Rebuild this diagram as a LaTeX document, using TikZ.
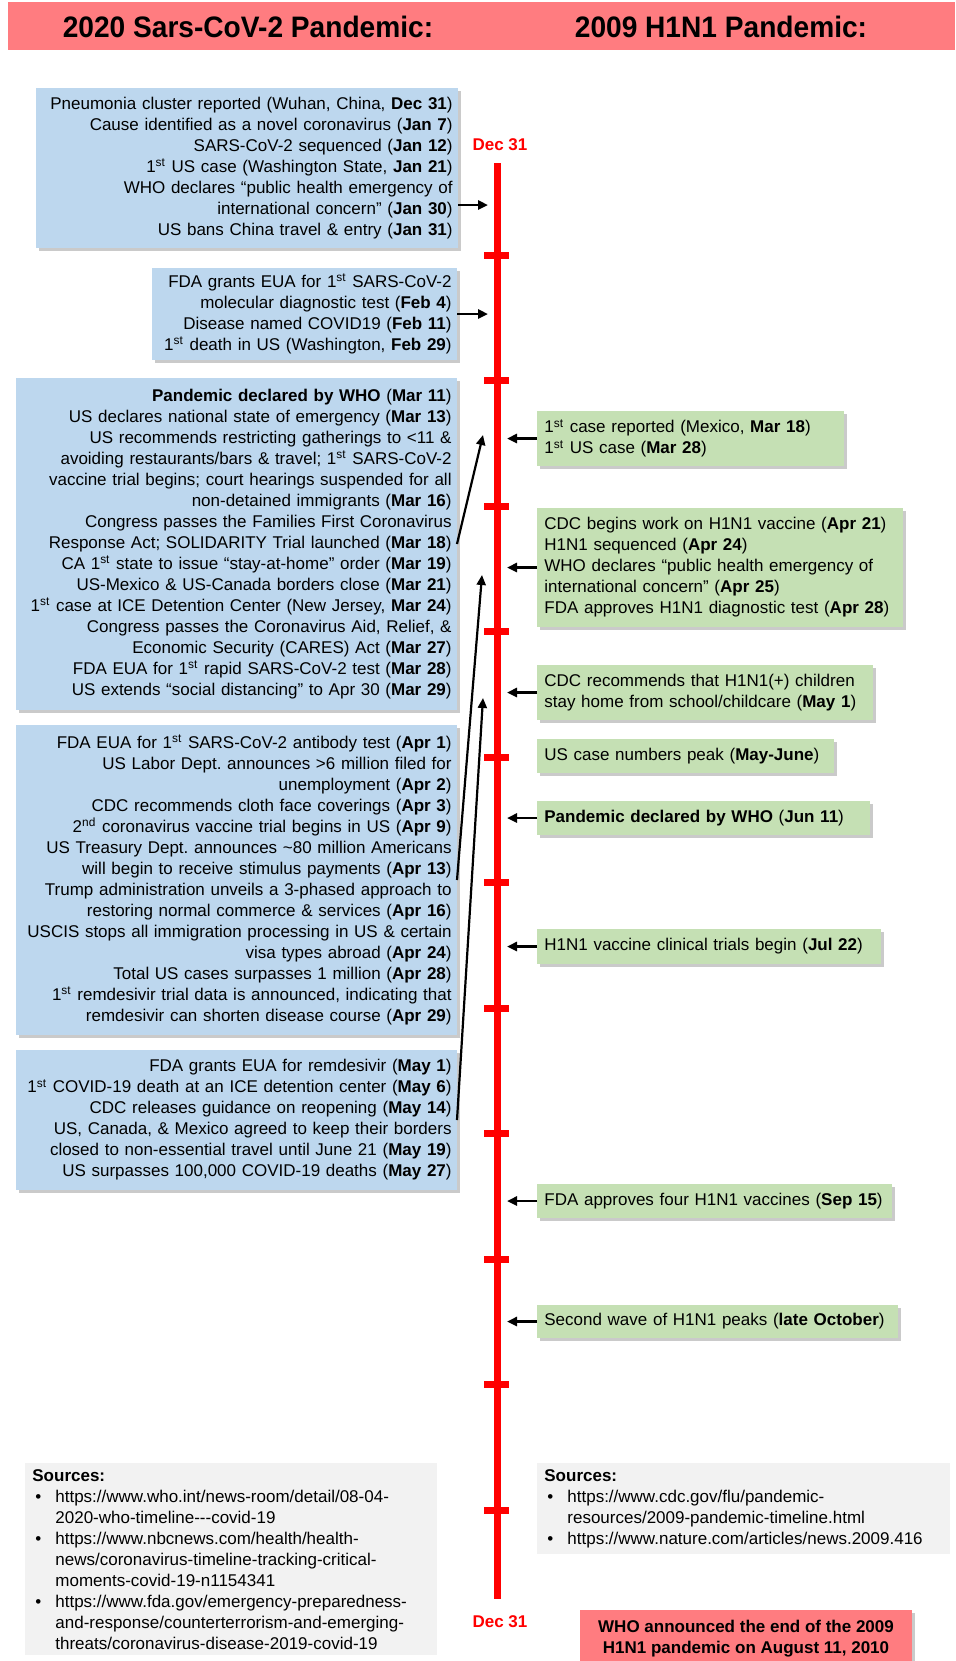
\documentclass[tikz,border=0pt]{standalone}
\usepackage{fontspec}
\setmainfont{Liberation Sans}
\newfontfamily\narrowfont{Liberation Sans}[FakeStretch=0.95]
\usepackage{tikz}
\usetikzlibrary{arrows.meta,shadows}

% colours of the boxes
\definecolor{covblue}{HTML}{BDD7EE}
\definecolor{flugreen}{HTML}{C5E0B4}
\definecolor{headred}{HTML}{FF7C80}
\definecolor{srcgray}{HTML}{F2F2F2}

\newcommand{\evfont}{\fontsize{8.5}{10.5}\selectfont\frenchspacing}
\newcommand{\when}[1]{\textbf{#1}}
\newcommand{\ust}{\textsuperscript{st}}
\newcommand{\bul}{\hspace*{1.5pt}\makebox[10pt][l]{\textbullet}}
\newcommand{\cont}{\hspace*{11.5pt}}

\tikzset{every picture/.style={x=0.5pt,y=-0.5pt}}
\tikzset{
  boxshadow/.style={drop shadow={shadow xshift=1.5pt, shadow yshift=-1.5pt, fill=black!60, opacity=0.35}},
  bluebox/.style={fill=covblue, boxshadow, align=right, anchor=east, inner xsep=2.5pt, inner ysep=0pt, font=\evfont},
  greenbox/.style={fill=flugreen, boxshadow, align=left, anchor=west, inner xsep=3.5pt, inner ysep=0pt, font=\evfont},
  srcbox/.style={fill=srcgray, align=left, anchor=north west, inner xsep=3.5pt, inner ysep=3pt, font=\evfont},
  endbox/.style={fill=headred, boxshadow, align=center, font=\evfont\bfseries},
  title/.style={font=\narrowfont\bfseries\fontsize{14.8}{17}\selectfont},
  daylbl/.style={text=red, font=\fontsize{8.5}{10}\selectfont\bfseries},
  timeline/.style={red, line width=3.5pt},
  tick/.style={red, line width=3.5pt},
  arr/.style={-{Triangle[length=5pt,width=4.5pt]}, line width=1.4pt},
  longarr/.style={-{Triangle[length=5pt,width=4.5pt]}, line width=1.1pt}
}

\begin{document}
\begin{tikzpicture}
    \useasboundingbox (0,0) rectangle (955,1661);

    % Header bar
    \fill[headred] (8,2) rectangle (955,50);
    \node[title] (tcov) at (248,27) {2020 Sars-CoV-2 Pandemic:};
    \node[title] (tflu) at (721,27) {2009 H1N1 Pandemic:};

    % Timeline
    \coordinate (tltop) at (497,163);
    \coordinate (tlbot) at (497,1599);
    \coordinate (ltip) at (488,0);
    \coordinate (rtip) at (507,0);
    \draw[timeline] (tltop) -- (tlbot);
    \foreach \k in {0,...,10} {
        \draw[tick] (484,255+125.5*\k) -- (509,255+125.5*\k);
    }
    \node[daylbl] (dtop) at (500,145) {Dec 31};
    \node[daylbl] (dbot) at (500,1622) {Dec 31};

    % 2020 events
    \node[bluebox, text width=206pt, minimum height=80pt] (b1) at (458,168) {
        Pneumonia cluster reported (Wuhan, China, \when{Dec 31})\\
        Cause identified as a novel coronavirus (\when{Jan 7})\\
        SARS-CoV-2 sequenced (\when{Jan 12})\\
        1\ust{} US case (Washington State, \when{Jan 21})\\
        WHO declares “public health emergency of\\
        international concern” (\when{Jan 30})\\
        US bans China travel \& entry (\when{Jan 31})};
    \node[bluebox, text width=147.5pt, minimum height=46pt] (b2) at (457,314) {
        FDA grants EUA for 1\ust{} SARS-CoV-2\\
        molecular diagnostic test (\when{Feb 4})\\
        Disease named COVID19 (\when{Feb 11})\\
        1\ust{} death in US (Washington, \when{Feb 29})};
    \node[bluebox, text width=215.5pt, minimum height=166pt] (b3) at (457,544) {
        \textbf{Pandemic declared by WHO} (\when{Mar 11})\\
        US declares national state of emergency (\when{Mar 13})\\
        US recommends restricting gatherings to <11 \&\\
        avoiding restaurants/bars \& travel; 1\ust{} SARS-CoV-2\\
        vaccine trial begins; court hearings suspended for all\\
        non-detained immigrants (\when{Mar 16})\\
        Congress passes the Families First Coronavirus\\
        Response Act; SOLIDARITY Trial launched (\when{Mar 18})\\
        CA 1\ust{} state to issue “stay-at-home” order (\when{Mar 19})\\
        US-Mexico \& US-Canada borders close (\when{Mar 21})\\
        1\ust{} case at ICE Detention Center (New Jersey, \when{Mar 24})\\
        Congress passes the Coronavirus Aid, Relief, \&\\
        Economic Security (CARES) Act (\when{Mar 27})\\
        FDA EUA for 1\ust{} rapid SARS-CoV-2 test (\when{Mar 28})\\
        US extends “social distancing” to Apr 30 (\when{Mar 29})};
    \node[bluebox, text width=215.5pt, minimum height=155pt] (b4) at (457,880) {
        FDA EUA for 1\ust{} SARS-CoV-2 antibody test (\when{Apr 1})\\
        US Labor Dept. announces >6 million filed for\\
        unemployment (\when{Apr 2})\\
        CDC recommends cloth face coverings (\when{Apr 3})\\
        2\textsuperscript{nd} coronavirus vaccine trial begins in US (\when{Apr 9})\\
        US Treasury Dept. announces \textasciitilde80 million Americans\\
        will begin to receive stimulus payments (\when{Apr 13})\\
        Trump administration unveils a 3-phased approach to\\
        restoring normal commerce \& services (\when{Apr 16})\\
        USCIS stops all immigration processing in US \& certain\\
        visa types abroad (\when{Apr 24})\\
        Total US cases surpasses 1 million (\when{Apr 28})\\
        1\ust{} remdesivir trial data is announced, indicating that\\
        remdesivir can shorten disease course (\when{Apr 29})};
    \node[bluebox, text width=215.5pt, minimum height=70pt] (b5) at (457,1120) {
        FDA grants EUA for remdesivir (\when{May 1})\\
        1\ust{} COVID-19 death at an ICE detention center (\when{May 6})\\
        CDC releases guidance on reopening (\when{May 14})\\
        US, Canada, \& Mexico agreed to keep their borders\\
        closed to non-essential travel until June 21 (\when{May 19})\\
        US surpasses 100,000 COVID-19 deaths (\when{May 27})};

    % 2009 events
    \node[greenbox, text width=146.5pt, minimum height=27.5pt] (g1) at (537,438.5) {
        1\ust{} case reported (Mexico, \when{Mar 18})\\
        1\ust{} US case (\when{Mar 28})};
    \node[greenbox, text width=176pt, minimum height=59.5pt] (g2) at (537,567.5) {
        CDC begins work on H1N1 vaccine (\when{Apr 21})\\
        H1N1 sequenced (\when{Apr 24})\\
        WHO declares “public health emergency of\\
        international concern” (\when{Apr 25})\\
        FDA approves H1N1 diagnostic test (\when{Apr 28})};
    \node[greenbox, text width=161pt, minimum height=27.5pt] (g3) at (537,692.5) {
        CDC recommends that H1N1(+) children\\
        stay home from school/childcare (\when{May 1})};
    \node[greenbox, text width=141.5pt, minimum height=17pt] (g4) at (537,756) {
        US case numbers peak (\when{May-June})};
    \node[greenbox, text width=159.5pt, minimum height=17pt] (g5) at (537,818) {
        \textbf{Pandemic declared by WHO} (\when{Jun 11})};
    \node[greenbox, text width=165pt, minimum height=17.5pt] (g6) at (537,946.5) {
        H1N1 vaccine clinical trials begin (\when{Jul 22})};
    \node[greenbox, text width=170.5pt, minimum height=17pt] (g7) at (537,1201) {
        FDA approves four H1N1 vaccines (\when{Sep 15})};
    \node[greenbox, text width=173.5pt, minimum height=16.5pt] (g8) at (537,1321.5) {
        Second wave of H1N1 peaks (\when{late October})};

    % Arrows into the timeline
    \coordinate (b1out) at ([yshift=-18.5pt]b1.east);
    \draw[arr] (b1out) -- (b1out -| ltip);
    \draw[arr] (b2.east) -- (b2.east -| ltip);
    \coordinate (marA) at (483,435);
    \coordinate (aprA) at (482,575);
    \coordinate (mayA) at (483,698);
    \draw[longarr] (b3.east) -- (marA);
    \draw[longarr] (b4.east) -- (aprA);
    \draw[longarr] (b5.east) -- (mayA);
    \foreach \g in {g1,g2,g3,g5,g6,g7,g8} {
        \draw[arr] (\g.west) -- (\g.west -| rtip);
    }

    % Sources
    \node[srcbox, text width=199pt] (srcL) at (25,1463) {
        \textbf{Sources:}\\
        \bul https://www.who.int/news-room/detail/08-04-\\
        \cont 2020-who-timeline-{}-{}-covid-19\\
        \bul https://www.nbcnews.com/health/health-\\
        \cont news/coronavirus-timeline-tracking-critical-\\
        \cont moments-covid-19-n1154341\\
        \bul https://www.fda.gov/emergency-preparedness-\\
        \cont and-response/counterterrorism-and-emerging-\\
        \cont threats/coronavirus-disease-2019-covid-19\\[6pt]};
    \node[srcbox, text width=199.5pt] (srcR) at (537,1463) {
        \textbf{Sources:}\\
        \bul https://www.cdc.gov/flu/pandemic-\\
        \cont resources/2009-pandemic-timeline.html\\
        \bul https://www.nature.com/articles/news.2009.416};

    % End of the 2009 pandemic
    \node[endbox, minimum width=166pt, minimum height=28.5pt] (endflu) at (746,1638.5) {
        WHO announced the end of the 2009\\
        H1N1 pandemic on August 11, 2010};
\end{tikzpicture}
\end{document}
